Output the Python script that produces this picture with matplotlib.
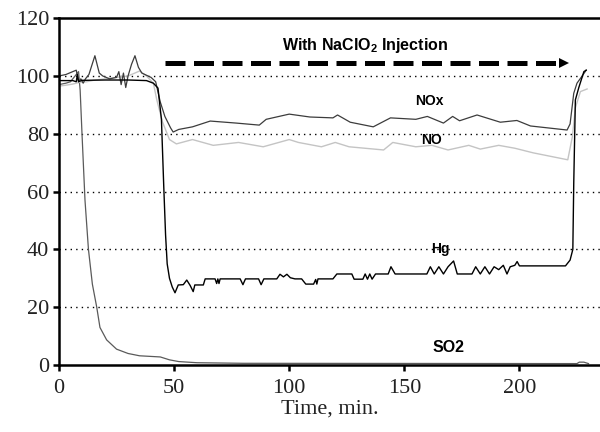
import matplotlib
matplotlib.use("Agg")
import matplotlib.pyplot as plt

# values (time in min, value in %)
hg_t = [0, 4, 6, 7.5, 8, 8.5, 10, 12, 20, 30, 38, 41, 43, 44.5, 45.5, 46.3, 47, 48,
        49.2, 50.4, 51.8, 54, 55.5, 57, 58.3, 59, 62.7, 63.5, 67.8, 68.5, 69, 69.5, 70,
        78.7, 79.9, 81, 86.7, 87.8, 89, 94.6, 96, 97.5, 99, 100.5, 102.5, 105.4, 107.2,
        110.6, 111.5, 112, 112.5, 119, 120.7, 127.2, 128.2, 132, 133, 134, 135, 136, 137.5,
        143, 144.2, 146, 159.8, 161.3, 163, 165, 167, 169, 171.4, 173, 179.4, 181, 183,
        185, 187, 189, 191, 193, 194.6, 196, 198, 199, 200, 220, 222, 223.2, 223.6,
        224.3, 225.8, 228, 229]
hg_v = [98.4, 98.4, 98.4, 98, 100.5, 98, 98.5, 98.5, 98.6, 98.6, 98.4, 97.5, 95.8, 85,
        62, 45, 35, 30, 27, 25, 27.7, 27.8, 29.4, 27.5, 25.4, 27.7, 27.7, 29.8, 29.8,
        28.2, 29.8, 28.2, 29.8, 29.8, 27.8, 29.8, 29.8, 27.8, 29.8, 29.8, 31.4, 30.5,
        31.4, 30.2, 29.8, 29.8, 28, 28, 29.6, 28, 29.8, 29.8, 31.5, 31.5, 29.7, 29.7,
        31.5, 29.7, 31.5, 29.7, 31.5, 31.5, 34, 31.5, 31.5, 34, 31.5, 34, 31.5, 34, 36,
        31.5, 31.5, 34, 31.5, 34, 31.5, 34, 33, 34.5, 31.5, 34, 34.5, 35.8, 34.3, 34.3,
        36.3, 40, 63, 91.7, 96, 101.5, 102]

nox_t = [0, 3, 6, 7.5, 8.5, 9.5, 10.5, 11.5, 13, 15.6, 17.5, 19, 22, 25, 26, 27, 28,
         29, 30, 31.5, 33, 34.5, 36, 40, 42, 44, 46, 48.5, 49.6, 52, 58, 65.7, 77, 87,
         90, 100, 109, 119, 121, 126.5, 136.5, 144, 155, 160, 167, 171, 174, 181.6, 191.7,
         198.9, 204.8, 220.7, 222, 223.6, 225, 227.7, 229]
nox_v = [100, 100.5, 101.5, 102, 98, 99, 97.5, 99, 100.5, 107, 101, 100, 99, 99.5,
         101.5, 97, 101, 96, 100, 104, 107, 103, 101, 99.5, 98, 91, 86, 82, 80.6, 81.5,
         82.4, 84.4, 83.7, 83, 85, 86.8, 85.8, 85.5, 86.5, 84, 82.4, 85.5, 85, 86, 83.7,
         86, 84.5, 86.5, 84, 84.6, 82.7, 81.3, 83.4, 94, 97.5, 100.5, 102]

no_t = [0, 3, 6, 9, 12, 15, 20, 25, 30, 35, 38, 41, 42.5, 45, 48, 51, 58, 67, 78,
        88.7, 100, 104, 114, 120, 126, 141, 145, 155, 162, 169, 178, 183, 191, 198, 206,
        221, 223, 224.3, 226.5, 229.4]
no_v = [96.5, 96.8, 97.2, 97.8, 98, 98.5, 99, 99.5, 100, 101.7, 100, 97.5, 91.7, 84,
        78, 76.5, 78, 76, 77, 75.5, 78, 77, 75.5, 77, 75.5, 74.4, 77, 75.5, 76, 74.4, 76,
        74.7, 76, 75, 73.4, 71, 79, 89, 94.6, 95.5]

so2_t = [0, 3, 5, 7, 8.5, 9.2, 10, 11.3, 12.8, 14.5, 16.4, 17.8, 20.7, 25, 30, 35, 44,
         48, 52, 60, 80, 225, 226, 228, 230]
so2_v = [97, 97.5, 98, 100, 101.5, 95, 80, 57, 40, 28, 20, 13, 8.7, 5.5, 4, 3.2, 2.8,
         1.8, 1.2, 0.8, 0.6, 0.5, 1.0, 1.0, 0.5]

xticks = [0, 50, 100, 150, 200]
yticks = [0, 20, 40, 60, 80, 100, 120]

plt.rcParams['mathtext.fontset'] = 'custom'
plt.rcParams['mathtext.bf'] = 'Liberation Sans:bold'
plt.rcParams['mathtext.rm'] = 'Liberation Sans'

fig = plt.figure(figsize=(6, 4.32), dpi=100)
ax = fig.add_axes([0.0983, 0.155, 0.9017, 0.803])

ax.plot(so2_t, so2_v, color='#5a5a5a', lw=0.9)
ax.plot(no_t, no_v, color='#c4c4c4', lw=1.0)
ax.plot(nox_t, nox_v, color='#3c3c3c', lw=0.9)
ax.plot(hg_t, hg_v, color='black', lw=1.0)

# dotted gridlines
for y in yticks[1:-1]:
    ax.axhline(y, color='black', lw=1.0, ls=(0, (1, 3)), zorder=0)

# injection arrow
ax.plot([46, 217.5], [104.5, 104.5], color='black', lw=3.6, ls=(0, (4, 1.7)),
        solid_capstyle='butt', dash_capstyle='butt')
ax.plot([219.5], [104.5], marker='>', color='black', markersize=7, markeredgewidth=0)
ax.text(133, 110.5, r'With NaClO$\mathbf{_{2}}$ Injection', ha='center', va='center',
        fontsize=11.5, fontweight='bold', family='Liberation Sans')

ax.text(161, 91.5, 'NOx', ha='center', va='center', fontsize=10, fontweight='bold', family='Liberation Sans')
ax.text(162, 77.8, 'NO', ha='center', va='center', fontsize=10, fontweight='bold', family='Liberation Sans')
ax.text(165.5, 40.2, 'Hg', ha='center', va='center', fontsize=10, fontweight='bold', family='Liberation Sans')
ax.text(169, 6.2, 'SO2', ha='center', va='center', fontsize=11.5, fontweight='bold', family='Liberation Sans')

ax.set_xlim(0, 235)
ax.set_ylim(0, 120)
ax.set_xticks(xticks)
ax.set_yticks(yticks)
ax.spines['right'].set_visible(False)
for s in ['left', 'bottom', 'top']:
    ax.spines[s].set_linewidth(1.8)
ax.tick_params(direction='out', length=4, width=1.8, labelsize=16, pad=3)
ax.tick_params(axis='x', pad=6)
for lab in ax.get_xticklabels() + ax.get_yticklabels():
    lab.set_family('Liberation Serif')
    lab.set_color('#222222')
ax.set_xlabel('Time, min.', family='Liberation Serif', fontsize=16, labelpad=1, color='#222222')

fig.savefig('out.png', dpi=100)
